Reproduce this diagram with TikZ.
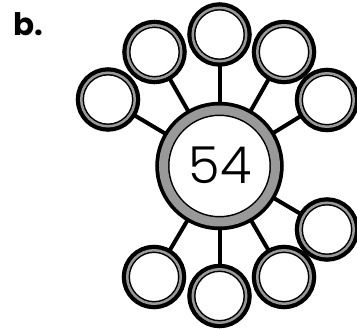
\documentclass[tikz,border=0pt]{standalone}
\usepackage{fontspec}
\setmainfont{Poppins}
\newfontfamily\numfont{Poppins Light}
\usetikzlibrary{backgrounds}
\definecolor{ringgray}{gray}{0.6}
\tikzset{
  smallring/.style={circle, inner sep=0pt, minimum size=53.5pt, fill=white,
    draw=black, line width=1.5pt, double=ringgray, double distance=2.5pt,
    preaction={draw=black, line width=11pt}},
  bigring/.style={circle, inner sep=0pt, minimum size=112pt, fill=white,
    draw=black, line width=1.5pt, double=ringgray, double distance=9pt,
    preaction={draw=black, line width=16.5pt}},
  spoke/.style={draw=black, line width=4pt}
}
\begin{document}
\begin{tikzpicture}[x=1pt,y=-1pt]
\useasboundingbox (0,0) rectangle (357,329);
\node[font=\bfseries\fontsize{31}{31}\selectfont, anchor=base west] (lbl) at (10,36) {b.};
\node[bigring] (c) at (219.5,166) {};
\node[font=\numfont\fontsize{51}{51}\selectfont] (num) at (220,165) {54};
\node[smallring] (n1) at (108,99.5) {};
\node[smallring] (n2) at (154.5,52) {};
\node[smallring] (n3) at (219.5,34.5) {};
\node[smallring] (n4) at (284,52) {};
\node[smallring] (n5) at (327,100) {};
\node[smallring] (n6) at (327,229.5) {};
\node[smallring] (n7) at (284,277) {};
\node[smallring] (n8) at (219.5,296) {};
\node[smallring] (n9) at (154,277) {};
\begin{scope}[on background layer]
\foreach \n in {n1,n2,n3,n4,n5,n6,n7,n8,n9}
  \draw[spoke] (c) -- (\n);
\end{scope}
\end{tikzpicture}
\end{document}
